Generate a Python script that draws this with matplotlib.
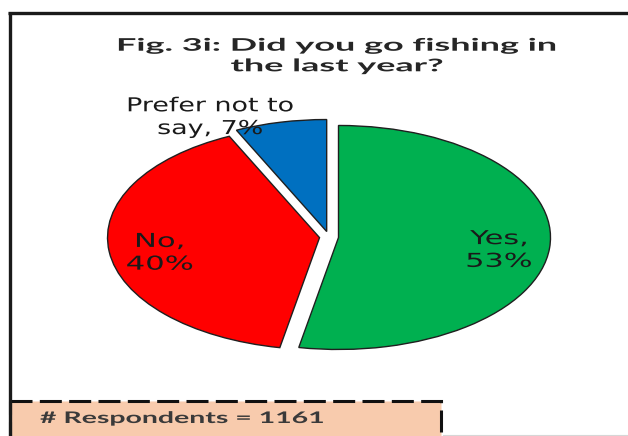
import numpy as np
import matplotlib.pyplot as plt
from matplotlib.patches import Rectangle
from matplotlib.patheffects import AbstractPathEffect
from matplotlib.transforms import Affine2D

categories = ['Yes', 'No', 'Prefer not to\nsay']
shares = [53, 40, 7]
colors = ['#00B050', '#FF0000', '#0070C0']
separators = [',\n', ',\n', ', ']
n_respondents = 1161
title = 'Fig. 3i: Did you go fishing in\nthe last year?'

W, H = 628, 436


class StretchX(AbstractPathEffect):
    """Widen glyphs horizontally, about the line centre or its start."""

    def __init__(self, sx=1.0, about='center'):
        super().__init__()
        self.sx = sx
        self.about = about

    def draw_path(self, renderer, gc, tpath, affine, rgbFace=None):
        ext = tpath.get_extents()
        x0 = (ext.x0 + ext.x1) / 2 if self.about == 'center' else 0
        stretch = Affine2D().translate(-x0, 0).scale(self.sx, 1).translate(x0, 0)
        renderer.draw_path(gc, tpath, stretch + affine, rgbFace)


def fit_width(txt, width_px, about='center'):
    # widen text so that its longest line spans width_px
    w = txt.get_window_extent(fig.canvas.get_renderer()).width
    txt.set_path_effects([StretchX(width_px / w, about)])


fig = plt.figure(figsize=(W / 100, H / 100), dpi=100)

# full-figure axes in pixel units for frame, title and note box
bg = fig.add_axes([0, 0, 1, 1])
bg.set_xlim(0, W)
bg.set_ylim(H, 0)
bg.axis('off')

bg.add_patch(Rectangle((10, 401), 431, 45, facecolor='#F8CBAD', edgecolor='#111111',
                       linewidth=2.2, linestyle=(0, (7.2, 2.4)), zorder=1))
bg.plot([9.5, 9.5], [12, H], color='#1a1a1a', lw=2.4, solid_capstyle='butt', zorder=3)
bg.plot([8, W], [13, 13], color='#1a1a1a', lw=2.4, solid_capstyle='butt', zorder=3)
bg.plot([443, W], [434.5, 434.5], color='#d6d6d6', lw=0.8, zorder=3)

t_title = bg.text(337, 56, title, ha='center', va='center', fontsize=12.5,
                  fontweight='bold', family=['Lato', 'DejaVu Sans'], color='#262626',
                  linespacing=1.35)
t_resp = bg.text(40, 419, f'# Respondents = {n_respondents}', ha='left', va='center',
                 fontsize=11.5, fontweight='bold', family=['Lato', 'DejaVu Sans'],
                 color='#3a3a3a', zorder=4)

# pie: elliptical, centre (329, 237) px, radii 212 x 112 px
cx, cy, rx, ry = 329, 237, 212, 112
ax = fig.add_axes([(cx - 1.25 * rx) / W, (H - cy - 1.25 * ry) / H, 2.5 * rx / W, 2.5 * ry / H])
wedges, _ = ax.pie(shares, colors=colors, startangle=90, counterclock=False,
                   explode=[0.045, 0.045, 0.05],
                   wedgeprops=dict(edgecolor='#1f1f1f', linewidth=1.0))
ax.set_aspect('auto')
ax.set_xlim(-1.25, 1.25)
ax.set_ylim(-1.25, 1.25)

label_font = dict(fontsize=13.8, family='DejaVu Sans', color='#1a1a1a', ha='center',
                  va='center', linespacing=1.25)
label_texts = []
for w, name, sep, v in zip(wedges, categories, separators, shares):
    text = f'{name}{sep}{v}%'
    if v >= 10:
        mid = np.deg2rad((w.theta1 + w.theta2) / 2)
        x = w.center[0] + 0.76 * np.cos(mid)
        y = w.center[1] + 0.76 * np.sin(mid) - 0.04
        label_texts.append(ax.text(x, y, text, **label_font))
    else:
        # small slice: label sits outside, above-left of the wedge
        label_texts.append(ax.text(-0.56, 1.07, text, zorder=5, **label_font))

fit_width(t_title, 442)
fit_width(t_resp, 284, about='start')
fit_width(label_texts[0], 67)
fit_width(label_texts[1], 68)
fit_width(label_texts[2], 168)

fig.savefig('out.png', dpi=100)
